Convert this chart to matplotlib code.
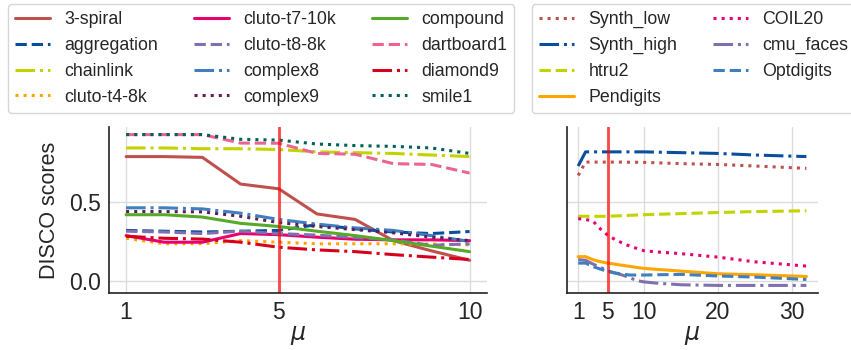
import numpy as np
import matplotlib
matplotlib.use("Agg")
import matplotlib.pyplot as plt
import seaborn as sns

sns.set_style("whitegrid")
plt.rcParams['font.family'] = ['Liberation Sans', 'DejaVu Sans']

# synthetic benchmark datasets, mu = 1..10
mu_small = [1, 2, 3, 4, 5, 6, 7, 8, 9, 10]
spiral3 = [0.79, 0.79, 0.785, 0.615, 0.585, 0.425, 0.39, 0.255, 0.19, 0.13]
aggregation = [0.32, 0.315, 0.31, 0.315, 0.32, 0.357, 0.33, 0.31, 0.30, 0.313]
chainlink = [0.845, 0.845, 0.84, 0.84, 0.835, 0.82, 0.815, 0.81, 0.80, 0.79]
cluto_t4 = [0.27, 0.235, 0.235, 0.255, 0.245, 0.235, 0.235, 0.235, 0.233, 0.228]
cluto_t7 = [0.287, 0.245, 0.245, 0.30, 0.293, 0.277, 0.264, 0.26, 0.26, 0.255]
cluto_t8 = [0.315, 0.31, 0.30, 0.315, 0.30, 0.29, 0.275, 0.26, 0.225, 0.235]
complex8 = [0.464, 0.464, 0.457, 0.43, 0.39, 0.36, 0.336, 0.32, 0.287, 0.25]
complex9 = [0.44, 0.44, 0.438, 0.41, 0.37, 0.345, 0.325, 0.305, 0.277, 0.255]
compound = [0.42, 0.42, 0.405, 0.365, 0.345, 0.315, 0.287, 0.255, 0.22, 0.185]
dartboard1 = [0.93, 0.93, 0.93, 0.876, 0.875, 0.81, 0.805, 0.745, 0.74, 0.685]
diamond9 = [0.283, 0.27, 0.265, 0.245, 0.213, 0.196, 0.185, 0.166, 0.15, 0.135]
smile1 = [0.93, 0.93, 0.93, 0.90, 0.895, 0.87, 0.86, 0.855, 0.845, 0.81]

# larger datasets, mu = 1..32
mu_large = [1, 2, 3, 4, 5, 6, 7, 8, 9, 10, 12, 15, 20, 25, 32]
synth_low = [0.67, 0.755, 0.755, 0.755, 0.755, 0.755, 0.755, 0.754, 0.754, 0.753, 0.75, 0.745, 0.74, 0.73, 0.715]
synth_high = [0.73, 0.82, 0.82, 0.82, 0.82, 0.82, 0.82, 0.82, 0.82, 0.82, 0.818, 0.815, 0.81, 0.80, 0.79]
htru2 = [0.41, 0.41, 0.41, 0.41, 0.41, 0.412, 0.414, 0.416, 0.418, 0.42, 0.423, 0.427, 0.434, 0.44, 0.445]
pendigits = [0.153, 0.153, 0.134, 0.121, 0.112, 0.105, 0.098, 0.091, 0.084, 0.078, 0.071, 0.061, 0.044, 0.038, 0.027]
coil20 = [0.395, 0.39, 0.38, 0.33, 0.29, 0.262, 0.24, 0.22, 0.205, 0.19, 0.182, 0.172, 0.15, 0.12, 0.093]
cmu_faces = [0.134, 0.13, 0.106, 0.085, 0.064, 0.049, 0.036, 0.019, 0.0, -0.008, -0.017, -0.026, -0.03, -0.03, -0.03]
optdigits = [0.112, 0.112, 0.09, 0.074, 0.059, 0.049, 0.042, 0.036, 0.036, 0.036, 0.038, 0.04, 0.03, 0.023, 0.008]

c_brown = "#c0504d"
c_navy = "#0a4f9e"
c_lime = "#c3d300"
c_orange = "#ffa600"
c_magenta = "#e8006f"
c_purple = "#7f70b0"
c_steel = "#3f7fbf"
c_plum = "#5b1f5c"
c_green = "#55aa2a"
c_pink = "#ec6590"
c_red = "#d7001c"
c_teal = "#00605a"

left_series = [
    ("3-spiral", spiral3, c_brown, "-"),
    ("aggregation", aggregation, c_navy, "--"),
    ("chainlink", chainlink, c_lime, "-."),
    ("cluto-t4-8k", cluto_t4, c_orange, ":"),
    ("cluto-t7-10k", cluto_t7, c_magenta, "-"),
    ("cluto-t8-8k", cluto_t8, c_purple, "--"),
    ("complex8", complex8, c_steel, "-."),
    ("complex9", complex9, c_plum, ":"),
    ("compound", compound, c_green, "-"),
    ("dartboard1", dartboard1, c_pink, "--"),
    ("diamond9", diamond9, c_red, "-."),
    ("smile1", smile1, c_teal, ":"),
]
right_series = [
    ("Synth_low", synth_low, c_brown, ":"),
    ("Synth_high", synth_high, c_navy, "-."),
    ("htru2", htru2, c_lime, "--"),
    ("Pendigits", pendigits, c_orange, "-"),
    ("COIL20", coil20, c_magenta, ":"),
    ("cmu_faces", cmu_faces, c_purple, "-."),
    ("Optdigits", optdigits, c_steel, "--"),
]

fig = plt.figure(figsize=(8.51, 3.5), dpi=100)
ax1 = fig.add_axes([0.128, 0.163, 0.444, 0.474])
ax2 = fig.add_axes([0.666, 0.163, 0.295, 0.474], sharey=ax1)

for name, vals, col, ls in left_series:
    ax1.plot(mu_small, vals, color=col, linestyle=ls, linewidth=2.2, label=name)
for name, vals, col, ls in right_series:
    ax2.plot(mu_large, vals, color=col, linestyle=ls, linewidth=2.2, label=name)

for ax in (ax1, ax2):
    ax.axvline(5, color="red", alpha=0.65, linewidth=2.2)
    ax.grid(True, color="#dcdcdc", linewidth=1.0)
    ax.spines["top"].set_visible(False)
    ax.spines["right"].set_visible(False)
    for s in ("left", "bottom"):
        ax.spines[s].set_color("#222222")
        ax.spines[s].set_linewidth(1.2)
    ax.tick_params(labelsize=16.5, colors="#262626", length=0, pad=6)
    ax.set_xlabel(r"$\mu$", fontsize=17, color="#262626", labelpad=0)

ax1.set_xticks([1, 5, 10])
ax2.set_xticks([1, 5, 10, 20, 30])
ax1.set_yticks([0.0, 0.5])
ax1.set_ylabel("DISCO scores", fontsize=15.5, color="#262626")
ax1.yaxis.set_label_coords(-0.13, 0.5)
plt.setp(ax2.get_yticklabels(), visible=False)

ax1.legend(ncol=3, fontsize=12.75, loc="upper left", bbox_to_anchor=(0.0094, 0.9886),
           bbox_transform=fig.transFigure, borderaxespad=0, handlelength=2.0)
ax2.legend(ncol=2, fontsize=12.75, loc="upper left", bbox_to_anchor=(0.625, 0.9886),
           bbox_transform=fig.transFigure, borderaxespad=0, handlelength=2.0)

fig.savefig("out.png", dpi=100)
